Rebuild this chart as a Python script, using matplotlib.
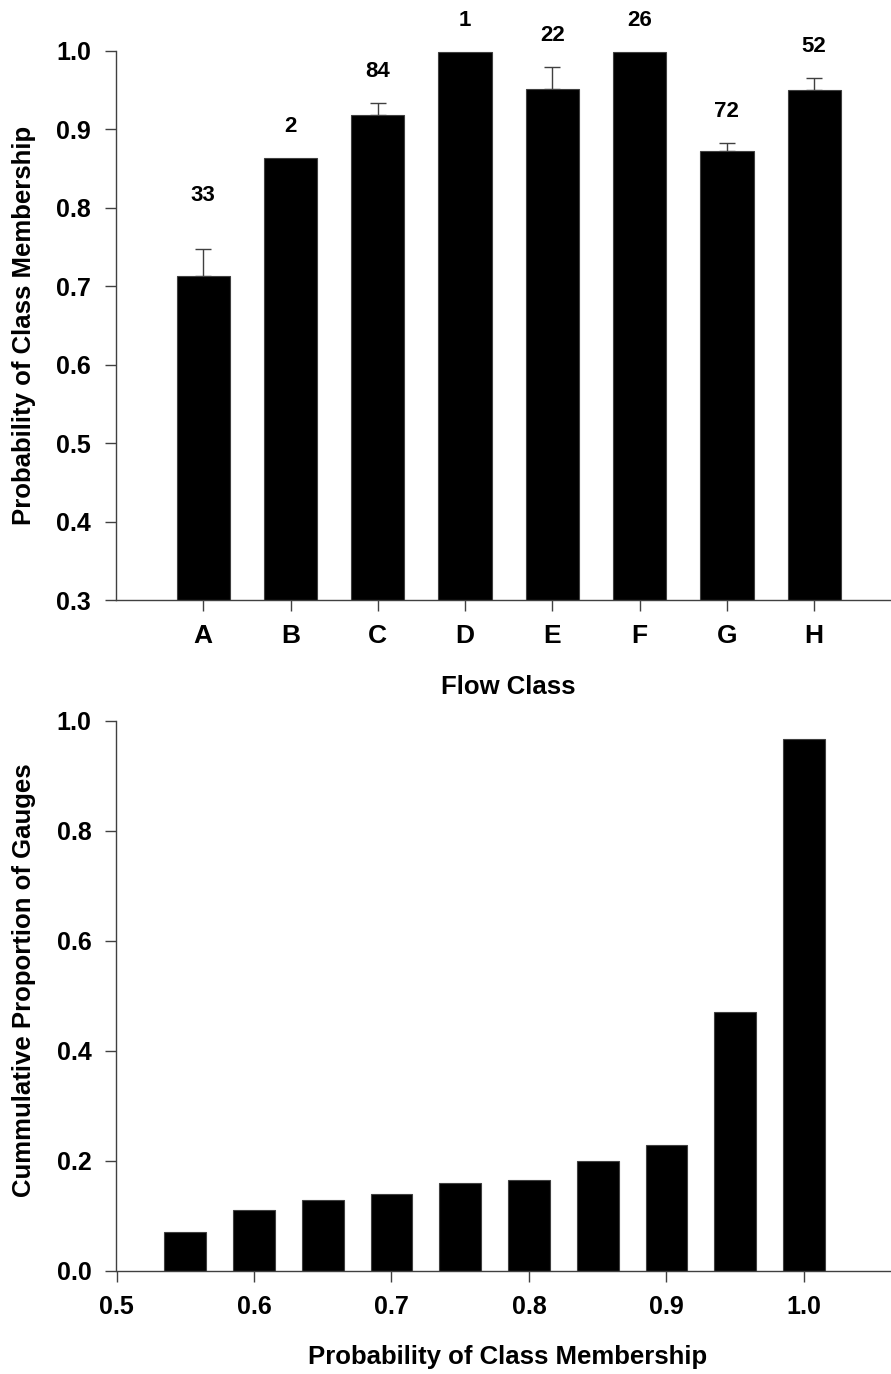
import numpy as np
import matplotlib
matplotlib.use("Agg")
import matplotlib.pyplot as plt

plt.rcParams['font.family'] = ['Liberation Sans', 'DejaVu Sans']
plt.rcParams['font.weight'] = 'bold'

AXIS_GRAY = '#404040'

# top panel: mean probability of class membership per flow class
flow_classes = ['A', 'B', 'C', 'D', 'E', 'F', 'G', 'H']
mean_prob = [0.713, 0.864, 0.919, 0.999, 0.951, 0.999, 0.873, 0.950]
upper_err = [0.035, 0.0, 0.015, 0.0, 0.029, 0.0, 0.010, 0.016]
n_gauges = [33, 2, 84, 1, 22, 26, 72, 52]

# bottom panel: cumulative proportion of gauges by probability bin
prob_bins = [0.55, 0.60, 0.65, 0.70, 0.75, 0.80, 0.85, 0.90, 0.95, 1.00]
cum_prop = [0.071, 0.111, 0.129, 0.140, 0.160, 0.166, 0.200, 0.229, 0.471, 0.967]

# small manual nudges of count labels (data units), as in the original figure
label_nudge = {'A': 0.028}


def style_axes(ax):
    for side in ['top', 'right']:
        ax.spines[side].set_visible(False)
    for side in ['left', 'bottom']:
        ax.spines[side].set_color(AXIS_GRAY)
        ax.spines[side].set_linewidth(1.0)
    ax.tick_params(direction='out', length=8, width=1.0, color=AXIS_GRAY,
                   labelsize=18, pad=10)


fig = plt.figure(figsize=(8.91, 13.74), dpi=100)
fig.patch.set_facecolor('white')

# ---- top panel ----
ax1 = fig.add_axes([116 / 891, 1 - 600 / 1374, 775 / 891, 549 / 1374])
x = np.arange(len(flow_classes))
ax1.bar(x, mean_prob, width=0.61, bottom=0, color='black',
        edgecolor=AXIS_GRAY, linewidth=0.8, zorder=2)

err_idx = [i for i, e in enumerate(upper_err) if e > 0]
ax1.errorbar(x[err_idx], [mean_prob[i] for i in err_idx],
             yerr=[np.zeros(len(err_idx)), [upper_err[i] for i in err_idx]],
             fmt='none', ecolor=AXIS_GRAY, elinewidth=1.0, capsize=6,
             capthick=1.0, zorder=1)

for i, (cls, n) in enumerate(zip(flow_classes, n_gauges)):
    y = mean_prob[i] + upper_err[i] + 0.04 + label_nudge.get(cls, 0.0)
    ax1.text(x[i], y, str(n), ha='center', va='center', fontsize=16,
             fontweight='bold', clip_on=False)

ax1.set_xlim(-1, 7.88)
ax1.set_ylim(0.3, 1.0)
ax1.set_yticks(np.arange(0.3, 1.01, 0.1))
ax1.set_yticklabels([f'{v:.1f}' for v in np.arange(0.3, 1.01, 0.1)])
ax1.set_xticks(x)
ax1.set_xticklabels(flow_classes)
style_axes(ax1)
ax1.tick_params(axis='x', labelsize=19, pad=9)

fig.text(508 / 891, 1 - 687 / 1374, 'Flow Class', ha='center', va='center',
         fontsize=18.5, fontweight='bold')
fig.text(24 / 891, 1 - 325 / 1374, 'Probability of Class Membership',
         ha='center', va='center', rotation=90, fontsize=18.5,
         fontweight='bold')

# ---- bottom panel ----
ax2 = fig.add_axes([116.5 / 891, 1 - 1271 / 1374, 774.5 / 891, 550 / 1374])
ax2.bar(prob_bins, cum_prop, width=0.0305, color='black',
        edgecolor=AXIS_GRAY, linewidth=0.8)
ax2.set_xlim(0.5, 0.5 + 774.5 / 1375)
ax2.set_ylim(0, 1.0)
ax2.set_xticks(np.arange(0.5, 1.01, 0.1))
ax2.set_xticklabels([f'{v:.1f}' for v in np.arange(0.5, 1.01, 0.1)])
ax2.set_yticks(np.arange(0, 1.01, 0.2))
ax2.set_yticklabels([f'{v:.1f}' for v in np.arange(0, 1.01, 0.2)])
style_axes(ax2)
ax2.tick_params(axis='x', pad=9.5)

fig.text(508 / 891, 1 - 1357 / 1374, 'Probability of Class Membership',
         ha='center', va='center', fontsize=18.5, fontweight='bold')
fig.text(24 / 891, 1 - 980 / 1374, 'Cummulative Proportion of Gauges',
         ha='center', va='center', rotation=90, fontsize=18.5,
         fontweight='bold')

fig.savefig('out.png', dpi=100, facecolor='white')
